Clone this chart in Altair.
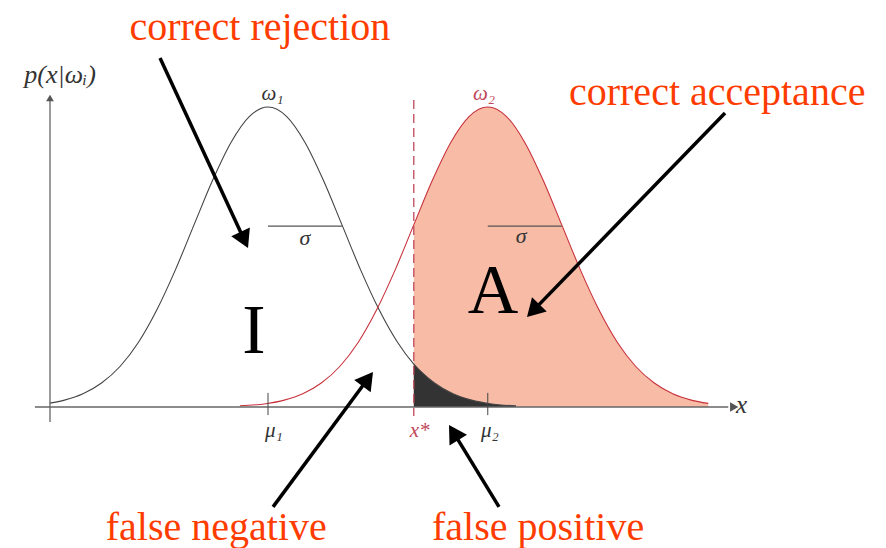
import math
import altair as alt
import pandas as pd

# ---------------- data (x measured in sigma units from mu1; y = density relative to peak) ----------------
MU1 = 0.0
MU2 = 2.97
XSTAR = 1.97

w1_x = [-2.95, -2.75, -2.5, -2.25, -2.0, -1.75, -1.5, -1.25, -1.0, -0.75, -0.5, -0.25, 0.0,
        0.25, 0.5, 0.75, 1.0, 1.25, 1.5, 1.75, 1.97, 2.25, 2.5, 2.75, 3.0, 3.35]
w1_y = [0.013, 0.023, 0.044, 0.080, 0.135, 0.216, 0.325, 0.458, 0.607, 0.755, 0.882, 0.969, 1.0,
        0.969, 0.882, 0.755, 0.607, 0.458, 0.325, 0.216, 0.143, 0.080, 0.044, 0.023, 0.011, 0.004]

w2_x = [-0.38, -0.03, 0.22, 0.47, 0.72, 0.97, 1.22, 1.47, 1.72, 1.97, 2.22, 2.47, 2.72, 2.97,
        3.22, 3.47, 3.72, 3.97, 4.22, 4.47, 4.72, 4.97, 5.22, 5.47, 5.72, 5.95]
w2_y = [0.004, 0.011, 0.023, 0.044, 0.080, 0.135, 0.216, 0.325, 0.458, 0.607, 0.755, 0.882, 0.969, 1.0,
        0.969, 0.882, 0.755, 0.607, 0.458, 0.325, 0.216, 0.135, 0.080, 0.044, 0.023, 0.012]

# sigma bars (from mu to mu + sigma at height of one sigma)
sig_x = [MU1, MU2]
sig_x2 = [MU1 + 1.0, MU2 + 1.0]
sig_y = [0.603, 0.603]

# math labels (dark)
mlab_text = ["p(x|ωᵢ)", "ω₁", "σ", "σ", "μ₁", "μ₂", "x"]
mlab_x = [-2.81, 0.06, 0.50, 3.42, 0.08, 3.0, 6.40]
mlab_y = [1.08, 1.023, 0.54, 0.547, -0.10, -0.10, -0.02]
mlab_size = [26, 21, 22, 22, 21, 21, 25]

# math labels (red)
rlab_text = ["ω₂", "x*"]
rlab_x = [2.92, 2.05]
rlab_y = [1.023, -0.10]

# region letters
big_text = ["I", "A"]
big_x = [-0.19, 3.04]
big_y = [0.18, 0.313]

# annotations
ann_text = ["correct rejection", "correct acceptance", "false negative", "false positive"]
ann_x = [-0.11, 6.07, -0.70, 3.65]
ann_y = [1.225, 1.007, -0.443, -0.443]

# annotation arrows: tail -> tip
arr_tail_x = [-1.459, 6.176, 0.068, 3.122]
arr_tail_y = [1.163, 0.980, -0.333, -0.333]
arr_tip_x = [-0.270, 3.500, 1.419, 2.446]
arr_tip_y = [0.530, 0.300, 0.117, -0.060]

# ---------------- layout ----------------
W, H = 870, 540
X_MIN, X_MAX = (8 - 268) / 74, (878 - 268) / 74
Y_MIN, Y_MAX = (407 - 548) / 300, (407 - 8) / 300
PXX = W / (X_MAX - X_MIN)
PXY = H / (Y_MAX - Y_MIN)

xs = alt.Scale(domain=[X_MIN, X_MAX], nice=False, zero=False)
ys = alt.Scale(domain=[Y_MIN, Y_MAX], nice=False, zero=False)


def X(f):
    return alt.X(f, type="quantitative", scale=xs, axis=None)


def Y(f):
    return alt.Y(f, type="quantitative", scale=ys, axis=None)


w1 = pd.DataFrame({"x": w1_x, "y": w1_y})
w1["b"] = 0.0
w2 = pd.DataFrame({"x": w2_x, "y": w2_y})
w2["b"] = 0.0

SALMON = "#F7BBA6"
RED_LINE = "#C8323C"
ANN_RED = "#FF3C00"

area_accept = alt.Chart(w2[w2.x >= XSTAR].reset_index(drop=True)).mark_area(
    color=SALMON, interpolate="monotone").encode(x=X("x"), y=Y("y"), y2="b")
area_fp = alt.Chart(w1[w1.x >= XSTAR].reset_index(drop=True)).mark_area(
    color="#333333", interpolate="monotone").encode(x=X("x"), y=Y("y"), y2="b")
line1 = alt.Chart(w1).mark_line(color="#444444", strokeWidth=1.1, interpolate="monotone").encode(
    x=X("x"), y=Y("y"))
line2 = alt.Chart(w2).mark_line(color=RED_LINE, strokeWidth=1.1, interpolate="monotone").encode(
    x=X("x"), y=Y("y"))

# axes
axes_df = pd.DataFrame({"x": [-3.15, -2.946], "x2": [6.22, -2.946],
                        "y": [0.0, -0.05], "y2": [0.0, 1.02]})
axes = alt.Chart(axes_df).mark_rule(color="#666666", strokeWidth=1.3).encode(
    x=X("x"), x2="x2", y=Y("y"), y2="y2")
xhead = alt.Chart(pd.DataFrame({"x": [6.3], "y": [0.0]})).mark_point(
    shape="triangle-right", size=90, filled=True, color="#555555", opacity=1).encode(x=X("x"), y=Y("y"))
yhead = alt.Chart(pd.DataFrame({"x": [-2.946], "y": [1.03]})).mark_point(
    shape="triangle-up", size=60, filled=True, color="#555555", opacity=1).encode(x=X("x"), y=Y("y"))

ticks = alt.Chart(pd.DataFrame({"x": [MU1, MU2], "y": [0.047, 0.047], "y2": [-0.027, -0.027]})).mark_rule(
    color="#444444", strokeWidth=1).encode(x=X("x"), y=Y("y"), y2="y2")

sig = alt.Chart(pd.DataFrame({"x": sig_x, "x2": sig_x2, "y": sig_y})).mark_rule(
    color="#555555", strokeWidth=1.2).encode(x=X("x"), x2="x2", y=Y("y"))

xstar_line = alt.Chart(pd.DataFrame({"x": [XSTAR], "y": [1.023], "y2": [-0.03]})).mark_rule(
    color="#C0485A", strokeWidth=1.3, strokeDash=[9, 5]).encode(x=X("x"), y=Y("y"), y2="y2")

# math labels
mlab = pd.DataFrame({"t": mlab_text, "x": mlab_x, "y": mlab_y, "s": mlab_size})
mtext = alt.Chart(mlab).mark_text(font="Liberation Serif", fontStyle="italic", color="#333333",
                                  baseline="alphabetic", align="center").encode(
    x=X("x"), y=Y("y"), text="t:N", size=alt.Size("s:Q", scale=None, legend=None))
rtext = alt.Chart(pd.DataFrame({"t": rlab_text, "x": rlab_x, "y": rlab_y})).mark_text(
    font="Liberation Serif", fontStyle="italic", color="#C0485A", fontSize=21,
    baseline="alphabetic", align="center").encode(x=X("x"), y=Y("y"), text="t:N")

big_df = pd.DataFrame({"t": big_text, "x": big_x, "y": big_y})
big = alt.Chart(big_df).mark_text(font="Liberation Serif", fontSize=70, color="#000000",
                                  baseline="alphabetic").encode(x=X("x"), y=Y("y"), text="t:N")

ann_df = pd.DataFrame({"t": ann_text, "x": ann_x, "y": ann_y})
ann = alt.Chart(ann_df).mark_text(font="Liberation Serif", fontSize=40, color=ANN_RED,
                                  baseline="alphabetic").encode(x=X("x"), y=Y("y"), text="t:N")

# arrows
HEAD = 420
head_h = 0.433 * math.sqrt(HEAD)
shaft_rows, head_rows = [], []
for tx, ty, hx, hy in zip(arr_tail_x, arr_tail_y, arr_tip_x, arr_tip_y):
    dx = (hx - tx) * PXX
    dy = -(hy - ty) * PXY
    L = math.hypot(dx, dy)
    ux, uy = dx / L, dy / L
    cx = hx - ux * head_h / PXX
    cy = hy + uy * head_h / PXY
    ang = math.degrees(math.atan2(ux, -uy)) % 360
    shaft_rows.append({"x": tx, "y": ty, "x2": cx, "y2": cy})
    head_rows.append({"x": cx, "y": cy, "a": ang})

shafts = alt.Chart(pd.DataFrame(shaft_rows)).mark_rule(color="#000000", strokeWidth=3.5).encode(
    x=X("x"), x2="x2", y=Y("y"), y2="y2")
heads = alt.Chart(pd.DataFrame(head_rows)).mark_point(
    shape="triangle-up", size=HEAD, filled=True, color="#000000", opacity=1).encode(
    x=X("x"), y=Y("y"), angle=alt.Angle("a:Q", scale=None))

chart = alt.layer(
    area_accept, area_fp, line1, line2, axes, xhead, yhead, ticks, sig, xstar_line,
    mtext, rtext, big, shafts, heads, ann
).properties(
    width=W, height=H, padding=0, autosize="none"
).configure_view(stroke=None)

chart.save("out.html", embed_options={"renderer": "svg", "actions": False})
